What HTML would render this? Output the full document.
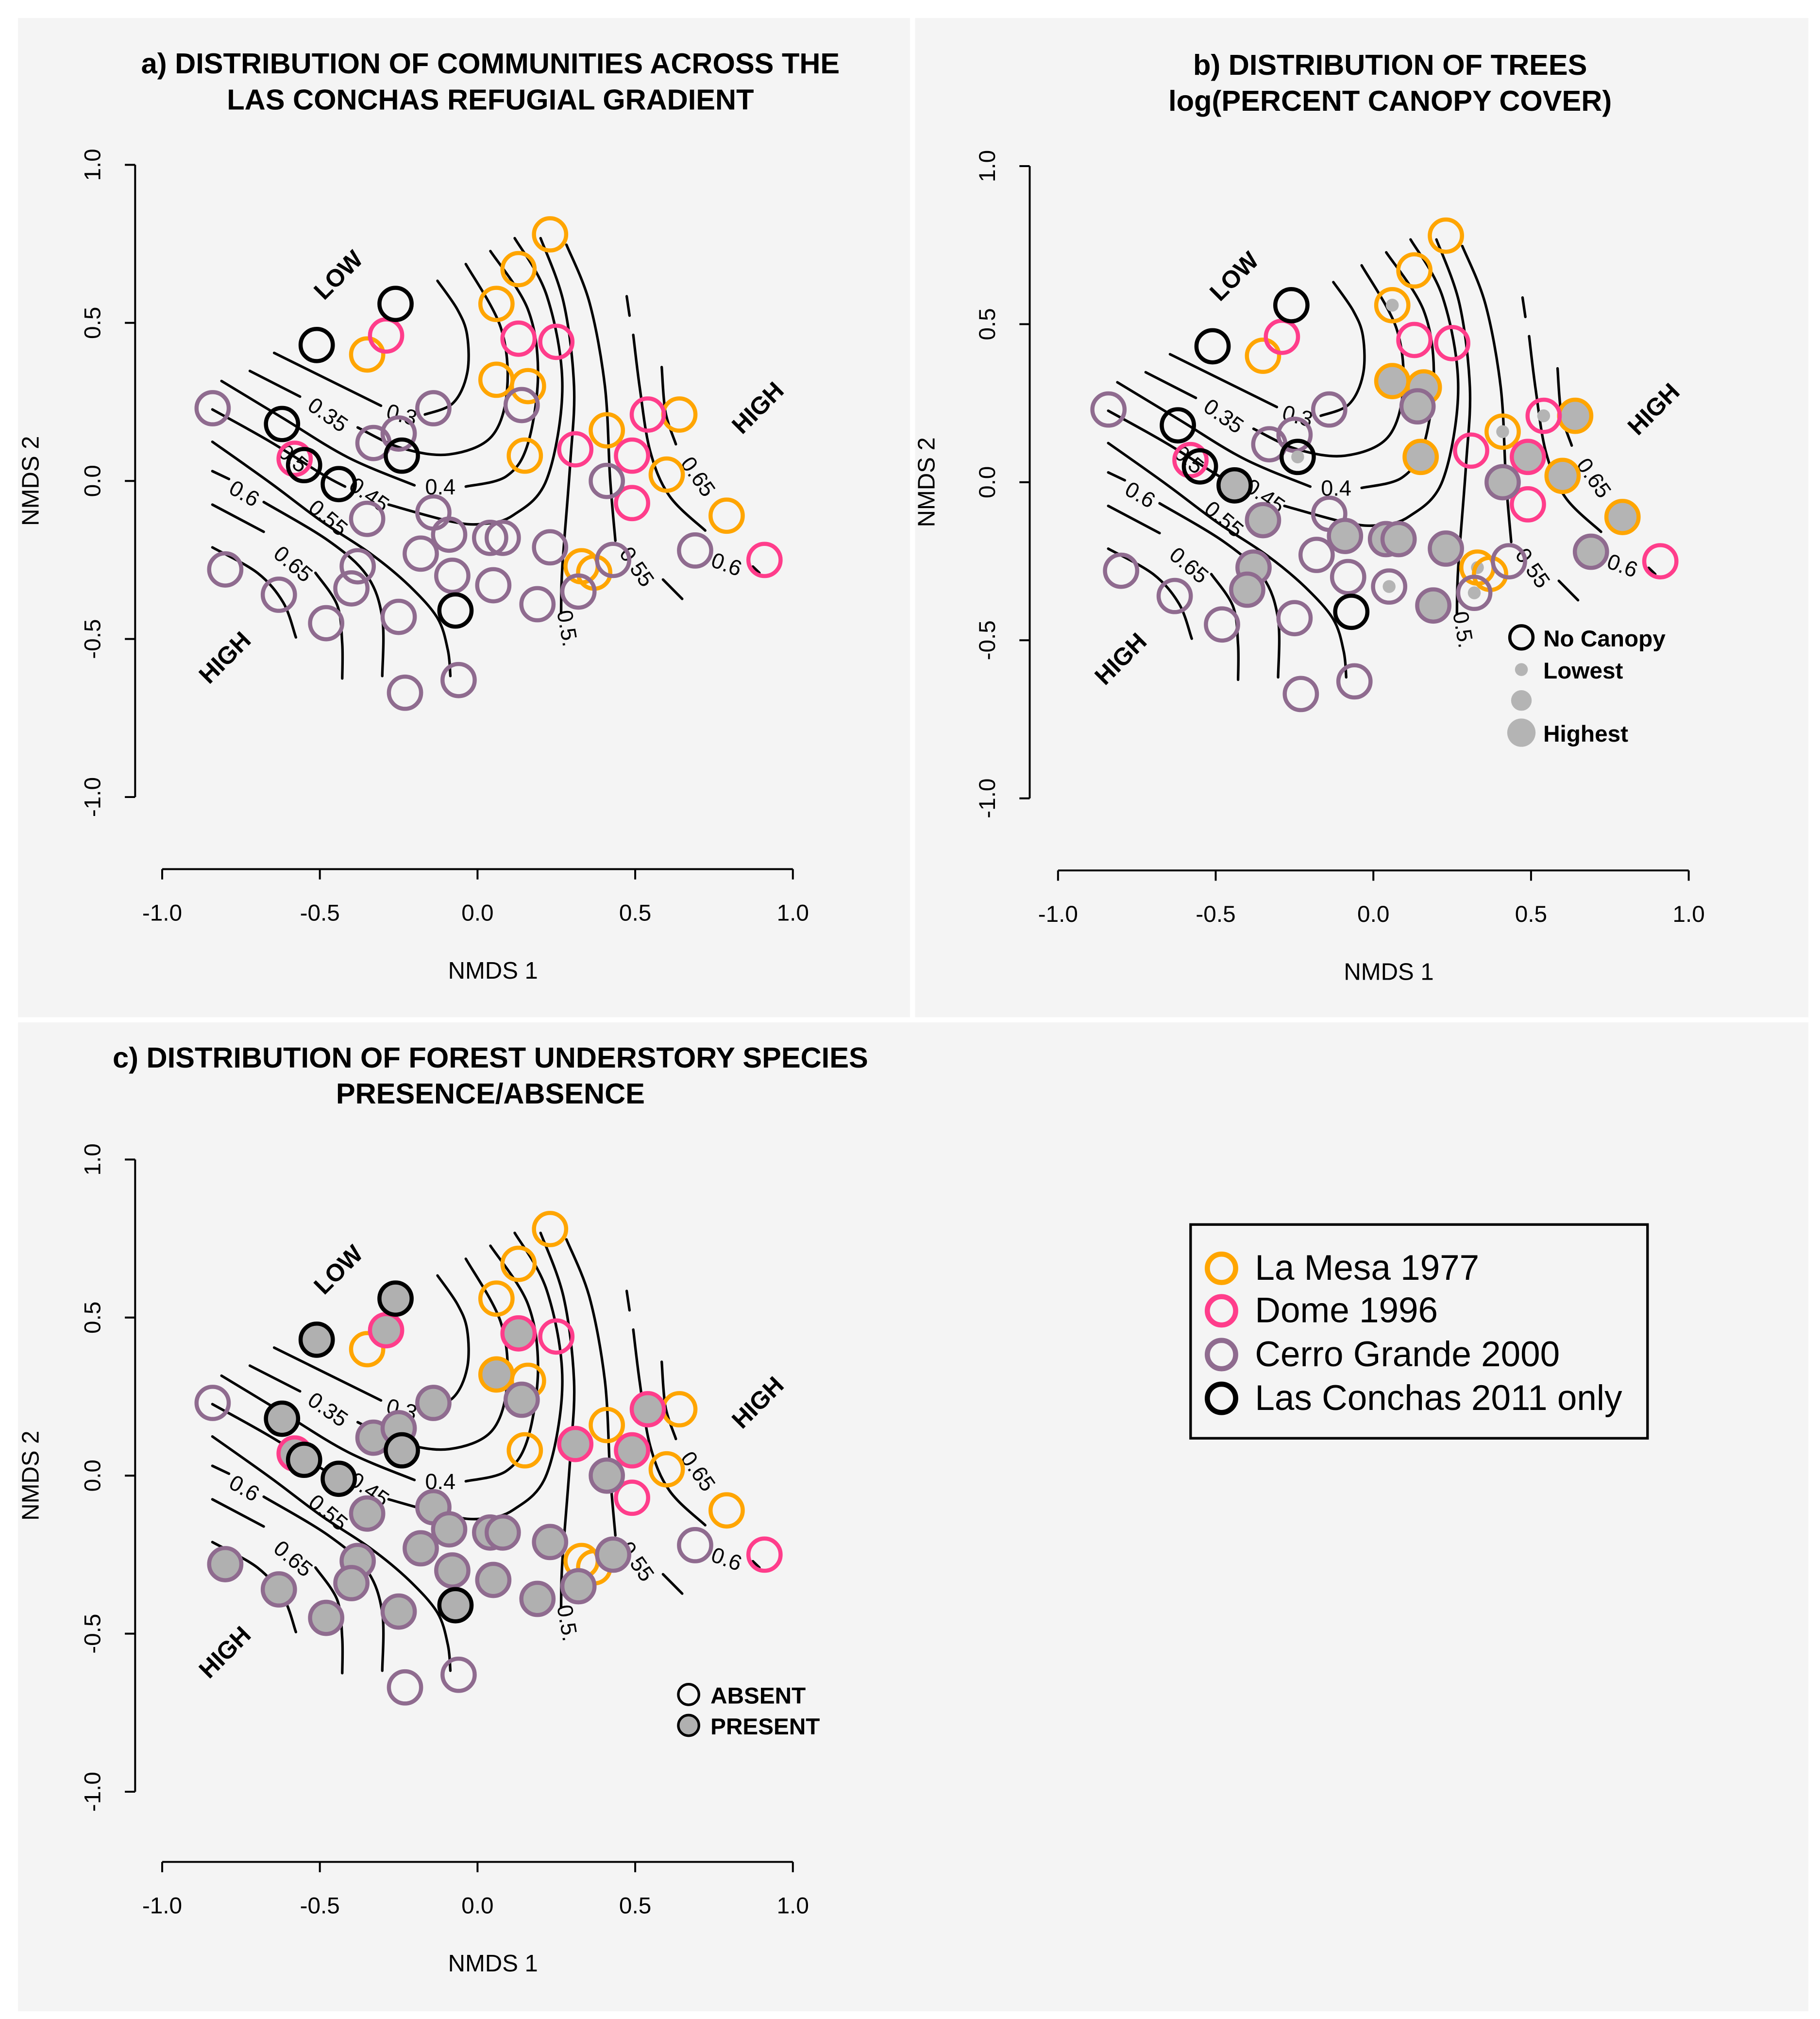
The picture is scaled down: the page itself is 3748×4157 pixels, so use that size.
<!DOCTYPE html>
<html><head><meta charset="utf-8"><style>
html,body{margin:0;padding:0;background:#fff}
svg{display:block}
text{font-family:"Liberation Sans",Arial,sans-serif}
</style></head><body>
<svg id="fig" xmlns="http://www.w3.org/2000/svg" width="3748" height="4157" viewBox="0 0 1414 1568" preserveAspectRatio="none">
<rect x="0" y="0" width="1414" height="1568" fill="#ffffff"/>
<rect x="14" y="14" width="693" height="776" fill="#f4f4f4"/>
<rect x="711" y="14" width="694" height="776" fill="#f4f4f4"/>
<rect x="14" y="794" width="1391" height="768" fill="#f4f4f4"/>
<g id="layer"></g>
<g>
<rect x="925" y="951" width="355" height="166" fill="none" stroke="#000" stroke-width="2"/>
<g><circle cx="949" cy="985" r="11" fill="none" stroke="#FFA500" stroke-width="4"/><text x="975" y="994" font-size="27.5">La Mesa 1977</text></g>
<g><circle cx="949" cy="1018" r="11" fill="none" stroke="#FF3D8B" stroke-width="4"/><text x="975" y="1027" font-size="27.5">Dome 1996</text></g>
<g><circle cx="949" cy="1052" r="11" fill="none" stroke="#8F6B8F" stroke-width="4"/><text x="975" y="1061" font-size="27.5">Cerro Grande 2000</text></g>
<g><circle cx="949" cy="1086" r="11" fill="none" stroke="#000" stroke-width="4"/><text x="975" y="1095" font-size="27.5">Las Conchas 2011 only</text></g>
</g>
</svg>
<script>
// ---- data (NMDS scores per plot) ----
const nmds1 = [0.23,0.13,0.06,-0.35,0.06,0.16,0.15,0.41,0.64,0.60,0.79,0.33,0.37,
 -0.29,0.13,0.25,0.54,0.31,0.49,0.49,0.91,-0.58,
 -0.84,-0.14,0.14,-0.33,-0.25,0.41,-0.35,-0.14,-0.09,0.04,0.08,-0.18,0.23,0.69,-0.80,-0.38,-0.08,-0.40,-0.63,0.05,0.19,0.43,0.32,-0.48,-0.25,-0.23,-0.06,
 -0.26,-0.51,-0.62,-0.24,-0.55,-0.44,-0.07];
const nmds2 = [0.78,0.67,0.56,0.40,0.32,0.30,0.08,0.16,0.21,0.02,-0.11,-0.27,-0.29,
 0.46,0.45,0.44,0.21,0.10,0.08,-0.07,-0.25,0.07,
 0.23,0.23,0.24,0.12,0.15,0.00,-0.12,-0.10,-0.17,-0.18,-0.18,-0.23,-0.21,-0.22,-0.28,-0.27,-0.30,-0.34,-0.36,-0.33,-0.39,-0.25,-0.35,-0.45,-0.43,-0.67,-0.63,
 0.56,0.43,0.18,0.08,0.05,-0.01,-0.41];
const group = [0,0,0,0,0,0,0,0,0,0,0,0,0,
 1,1,1,1,1,1,1,1,1,
 2,2,2,2,2,2,2,2,2,2,2,2,2,2,2,2,2,2,2,2,2,2,2,2,2,2,2,
 3,3,3,3,3,3,3];
// canopy class: 0 none, 1 lowest, 2 mid, 3 highest
const canopy = [0,0,1,0,3,3,3,1,3,3,3,1,0,
 0,0,0,1,0,3,0,0,0,
 0,0,3,0,0,3,3,0,3,3,3,0,3,3,0,3,0,3,0,1,3,0,1,0,0,0,0,
 0,0,0,1,0,3,0];
// understory presence: 0 absent, 1 present
const present = [0,0,0,0,1,0,0,0,0,0,0,0,0,
 1,1,0,1,1,1,0,0,1,
 0,1,1,1,1,1,1,1,1,1,1,1,1,0,1,1,1,1,1,1,1,1,1,1,1,0,0,
 1,1,1,1,1,1,1];
const groupColors = ["#FFA500","#FF3D8B","#8F6B8F","#000000"];
const groupNames = ["la-mesa","dome","cerro-grande","las-conchas"];
const xTicks = [-1.0,-0.5,0.0,0.5,1.0];
const yTicks = [-1.0,-0.5,0.0,0.5,1.0];
const xTickLabels = ["-1.0","-0.5","0.0","0.5","1.0"];
const yTickLabels = ["-1.0","-0.5","0.0","0.5","1.0"];
// contour polylines in NMDS units
const contours = [
 [[-0.645,0.405],[-0.306,0.238]],
 [[-0.167,0.210],[-0.078,0.246],[-0.033,0.340],[-0.033,0.462],[-0.065,0.544],[-0.127,0.633]],
 [[-0.722,0.348],[-0.563,0.267]],
 [[-0.380,0.169],[-0.241,0.104],[-0.090,0.084],[0.045,0.141],[0.094,0.291],[0.073,0.487],[-0.037,0.686]],
 [[-0.812,0.316],[-0.616,0.198],[-0.412,0.075],[-0.200,-0.014]],
 [[-0.037,-0.018],[0.090,0.014],[0.159,0.116],[0.192,0.340],[0.159,0.544],[0.041,0.727]],
 [[-0.841,0.226],[-0.657,0.124],[-0.494,0.022],[-0.420,-0.018]],
 [[-0.282,-0.075],[-0.086,-0.128],[0.016,-0.136],[0.114,-0.108],[0.220,0.006],[0.269,0.299],[0.220,0.585],[0.118,0.768]],
 [[-0.841,0.124],[-0.657,-0.006],[-0.494,-0.128],[-0.339,-0.230],[-0.216,-0.332],[-0.127,-0.434],[-0.094,-0.536],[-0.086,-0.617]],
 [[-0.841,0.031],[-0.788,0.006]],
 [[-0.678,-0.067],[-0.473,-0.189],[-0.351,-0.299],[-0.302,-0.434],[-0.302,-0.617]],
 [[-0.841,-0.075],[-0.678,-0.161]],
 [[-0.514,-0.291],[-0.445,-0.393],[-0.429,-0.515],[-0.429,-0.625]],
 [[-0.841,-0.210],[-0.698,-0.291],[-0.616,-0.385],[-0.576,-0.495]],
 [[0.265,-0.418],[0.269,-0.271],[0.294,0.055],[0.306,0.299],[0.273,0.564],[0.2,0.768]],
 [[0.437,-0.189],[0.420,0.014],[0.404,0.299],[0.355,0.564],[0.282,0.747]],
 [[0.588,-0.312],[0.649,-0.373]],
 [[0.473,0.584],[0.482,0.523]],
 [[0.494,0.462],[0.514,0.299],[0.547,0.096],[0.608,-0.047],[0.722,-0.157]],
 [[0.873,-0.271],[0.894,-0.291]],
 [[0.584,0.360],[0.596,0.218],[0.629,0.116]]
];
const contourLabelText = ["0.3","0.35","0.4","0.45","0.5","0.55","0.6","0.65","0.65","0.6","0.55","0.5."];
const contourLabelX = [-0.240,-0.474,-0.118,-0.343,-0.584,-0.473,-0.739,-0.584,0.700,0.790,0.506,0.286];
const contourLabelY = [0.210,0.210,-0.018,-0.043,0.072,-0.116,-0.039,-0.262,0.014,-0.263,-0.271,-0.466];
const contourLabelRot = [15,35,0,35,40,40,30,40,55,20,55,80];

const panels = [
 {id:"a", ox:371, oy:373.5, title1:"a) DISTRIBUTION OF COMMUNITIES ACROSS THE", title2:"LAS CONCHAS REFUGIAL GRADIENT", ty:49, tx:381, yAxisX:105, xAxisY:675, yLabX:78, nm2X:30},
 {id:"b", ox:1067, oy:374.5, title1:"b) DISTRIBUTION OF TREES", title2:"log(PERCENT CANOPY COVER)", ty:50, tx:1080, yAxisX:800, xAxisY:676, yLabX:773, nm2X:726},
 {id:"c", ox:371, oy:1146, title1:"c) DISTRIBUTION OF FOREST UNDERSTORY SPECIES", title2:"PRESENCE/ABSENCE", ty:821, tx:381, yAxisX:105, xAxisY:1446, yLabX:78, nm2X:30}
];
const SX = 245, SY = 245.5;
const NS = "http://www.w3.org/2000/svg";
const layer = document.getElementById("layer");
function mk(tag, attrs, parent){const e=document.createElementNS(NS,tag);for(const k in attrs)e.setAttribute(k,attrs[k]);(parent||layer).appendChild(e);return e;}
function txt(str, attrs, parent){const e=mk("text",attrs,parent);e.textContent=str;return e;}
function smooth(pts){
 if(pts.length<3) return "M"+pts.map(p=>p[0].toFixed(1)+","+p[1].toFixed(1)).join(" L");
 let d="M"+pts[0][0].toFixed(1)+","+pts[0][1].toFixed(1);
 for(let i=0;i<pts.length-1;i++){
  const p0=pts[i-1]||pts[i], p1=pts[i], p2=pts[i+1], p3=pts[i+2]||p2;
  const c1=[p1[0]+(p2[0]-p0[0])/6, p1[1]+(p2[1]-p0[1])/6];
  const c2=[p2[0]-(p3[0]-p1[0])/6, p2[1]-(p3[1]-p1[1])/6];
  d+=` C${c1[0].toFixed(1)},${c1[1].toFixed(1)} ${c2[0].toFixed(1)},${c2[1].toFixed(1)} ${p2[0].toFixed(1)},${p2[1].toFixed(1)}`;
 }
 return d;
}

panels.forEach(p=>{
 const xs = v=>p.ox+v*SX, ys = v=>p.oy-v*SY;
 const g = mk("g",{});
 
 
 const t1 = txt(p.title1,{x:p.tx,y:p.ty+8,"font-size":"22.5","font-weight":"bold","text-anchor":"middle"},g);
 
 
 const t2 = txt(p.title2,{x:p.tx,y:p.ty+36,"font-size":"22.5","font-weight":"bold","text-anchor":"middle"},g);
 
 
 const xa = mk("line",{x1:xs(-1),x2:xs(1),y1:p.xAxisY,y2:p.xAxisY,stroke:"#000","stroke-width":1.5},g);
 
 
 const ya = mk("line",{x1:p.yAxisX,x2:p.yAxisX,y1:ys(1),y2:ys(-1),stroke:"#000","stroke-width":1.5},g);
 
 
 xTicks.forEach((v,i)=>{
  mk("line",{x1:xs(v),x2:xs(v),y1:p.xAxisY,y2:p.xAxisY+8,stroke:"#000","stroke-width":1.5},g);
  const tl = txt(xTickLabels[i],{x:xs(v),y:p.xAxisY+40,"font-size":"18","text-anchor":"middle"},g);
  
  
 });
 yTicks.forEach((v,i)=>{
  mk("line",{x1:p.yAxisX-8,x2:p.yAxisX,y1:ys(v),y2:ys(v),stroke:"#000","stroke-width":1.5},g);
  const tl = txt(yTickLabels[i],{x:p.yLabX,y:ys(v),"font-size":"18","text-anchor":"middle",transform:`rotate(-90 ${p.yLabX} ${ys(v)})`},g);
  
  
 });
 const xt = txt("NMDS 1",{x:xs(0)+12,y:p.xAxisY+85,"font-size":"18.5","text-anchor":"middle"},g);
 
 
 const yt = txt("NMDS 2",{x:p.nm2X,y:ys(0),"font-size":"18.5","text-anchor":"middle",transform:`rotate(-90 ${p.nm2X} ${ys(0)})`},g);
 
 
 contours.forEach(c=>{
  const pl = mk("path",{d:smooth(c.map(q=>[xs(q[0]),ys(q[1])])),fill:"none",stroke:"#000","stroke-width":2,"stroke-linecap":"round"},g);
  
  
 });
 contourLabelText.forEach((s,i)=>{
  const X=xs(contourLabelX[i]), Y=ys(contourLabelY[i]);
  const cl = txt(s,{x:X,y:Y+6,"font-size":"17","text-anchor":"middle",transform:`rotate(${contourLabelRot[i]} ${X} ${Y})`},g);
  
  
 });
 [["LOW",-0.44,0.65],["HIGH",0.89,0.23],["HIGH",-0.80,-0.56]].forEach(L=>{
  const X=xs(L[1]), Y=ys(L[2]);
  const gl = txt(L[0],{x:X,y:Y+6,"font-size":"19","font-weight":"bold","text-anchor":"middle",transform:`rotate(-45 ${X} ${Y})`},g);
  
  
 });
 nmds1.forEach((v,i)=>{
  const cx=xs(v), cy=ys(nmds2[i]);
  if(p.id==="b" && canopy[i]>0){
   const r=[0,5,8,12][canopy[i]];
   const f = mk("circle",{cx:cx,cy:cy,r:r,fill:"#b4b4b4"},g);
   
   
  }
  if(p.id==="c" && present[i]===1){
   const f = mk("circle",{cx:cx,cy:cy,r:12,fill:"#b0b0b0"},g);
   
   
  }
  const c = mk("circle",{cx:cx,cy:cy,r:12.5,fill:"none",stroke:groupColors[group[i]],"stroke-width":3.2},g);
  
  
 });
 if(p.id==="b"){
  const lg = mk("g",{},g);
  
  
  mk("circle",{cx:1182,cy:495,r:9,fill:"none",stroke:"#000","stroke-width":2.5},lg);
  mk("circle",{cx:1182,cy:520,r:5,fill:"#b4b4b4"},lg);
  mk("circle",{cx:1182,cy:544,r:8,fill:"#b4b4b4"},lg);
  mk("circle",{cx:1182,cy:569,r:11,fill:"#b4b4b4"},lg);
  txt("No Canopy",{x:1199,y:502,"font-size":"18","font-weight":"bold"},lg);
  txt("Lowest",{x:1199,y:527,"font-size":"18","font-weight":"bold"},lg);
  txt("Highest",{x:1199,y:576,"font-size":"18","font-weight":"bold"},lg);
 }
 if(p.id==="c"){
  const lg = mk("g",{},g);
  
  
  mk("circle",{cx:535,cy:1316,r:8,fill:"none",stroke:"#000","stroke-width":2},lg);
  mk("circle",{cx:535,cy:1340,r:8,fill:"#b0b0b0",stroke:"#000","stroke-width":2},lg);
  txt("ABSENT",{x:552,y:1323,"font-size":"18","font-weight":"bold"},lg);
  txt("PRESENT",{x:552,y:1347,"font-size":"18","font-weight":"bold"},lg);
 }
});
</script>
</body></html>
